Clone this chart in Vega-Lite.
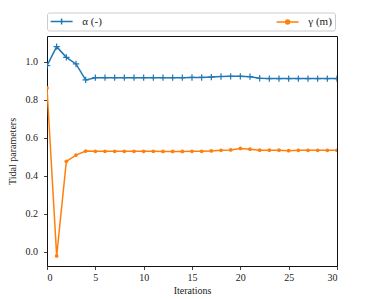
{
  "$schema": "https://vega.github.io/schema/vega-lite/v6.json",
  "width": 290,
  "height": 230,
  "autosize": {"type": "none"},
  "padding": {"left": 47, "top": 36, "right": 37, "bottom": 33},
  "background": "white",
  "config": {
    "view": {"stroke": "#111", "strokeWidth": 1},
    "font": "Liberation Serif",
    "axis": {
      "grid": false,
      "domain": false,
      "tickColor": "#111",
      "tickSize": 3.5,
      "tickWidth": 0.8,
      "labelFont": "Liberation Serif",
      "labelFontSize": 10,
      "labelColor": "#222",
      "labelPadding": 3,
      "titleFont": "Liberation Serif",
      "titleFontSize": 10,
      "titleFontWeight": "normal",
      "titleColor": "#222"
    },
    "legend": {
      "labelFont": "Liberation Serif",
      "labelFontSize": 11,
      "labelColor": "#222"
    }
  },
  "data": {
    "values": [
      {"iter": 0, "series": "α (-)", "value": 0.979},
      {"iter": 1, "series": "α (-)", "value": 1.079},
      {"iter": 2, "series": "α (-)", "value": 1.023},
      {"iter": 3, "series": "α (-)", "value": 0.988},
      {"iter": 4, "series": "α (-)", "value": 0.904},
      {"iter": 5, "series": "α (-)", "value": 0.916},
      {"iter": 6, "series": "α (-)", "value": 0.916},
      {"iter": 7, "series": "α (-)", "value": 0.916},
      {"iter": 8, "series": "α (-)", "value": 0.916},
      {"iter": 9, "series": "α (-)", "value": 0.916},
      {"iter": 10, "series": "α (-)", "value": 0.916},
      {"iter": 11, "series": "α (-)", "value": 0.916},
      {"iter": 12, "series": "α (-)", "value": 0.916},
      {"iter": 13, "series": "α (-)", "value": 0.916},
      {"iter": 14, "series": "α (-)", "value": 0.916},
      {"iter": 15, "series": "α (-)", "value": 0.917},
      {"iter": 16, "series": "α (-)", "value": 0.917},
      {"iter": 17, "series": "α (-)", "value": 0.919},
      {"iter": 18, "series": "α (-)", "value": 0.922},
      {"iter": 19, "series": "α (-)", "value": 0.923},
      {"iter": 20, "series": "α (-)", "value": 0.923},
      {"iter": 21, "series": "α (-)", "value": 0.921},
      {"iter": 22, "series": "α (-)", "value": 0.913},
      {"iter": 23, "series": "α (-)", "value": 0.911},
      {"iter": 24, "series": "α (-)", "value": 0.911},
      {"iter": 25, "series": "α (-)", "value": 0.911},
      {"iter": 26, "series": "α (-)", "value": 0.911},
      {"iter": 27, "series": "α (-)", "value": 0.911},
      {"iter": 28, "series": "α (-)", "value": 0.911},
      {"iter": 29, "series": "α (-)", "value": 0.911},
      {"iter": 30, "series": "α (-)", "value": 0.911},
      {"iter": 0, "series": "γ (m)", "value": 0.862},
      {"iter": 1, "series": "γ (m)", "value": -0.021},
      {"iter": 2, "series": "γ (m)", "value": 0.476},
      {"iter": 3, "series": "γ (m)", "value": 0.509},
      {"iter": 4, "series": "γ (m)", "value": 0.530},
      {"iter": 5, "series": "γ (m)", "value": 0.529},
      {"iter": 6, "series": "γ (m)", "value": 0.529},
      {"iter": 7, "series": "γ (m)", "value": 0.529},
      {"iter": 8, "series": "γ (m)", "value": 0.529},
      {"iter": 9, "series": "γ (m)", "value": 0.529},
      {"iter": 10, "series": "γ (m)", "value": 0.529},
      {"iter": 11, "series": "γ (m)", "value": 0.529},
      {"iter": 12, "series": "γ (m)", "value": 0.528},
      {"iter": 13, "series": "γ (m)", "value": 0.528},
      {"iter": 14, "series": "γ (m)", "value": 0.528},
      {"iter": 15, "series": "γ (m)", "value": 0.529},
      {"iter": 16, "series": "γ (m)", "value": 0.529},
      {"iter": 17, "series": "γ (m)", "value": 0.531},
      {"iter": 18, "series": "γ (m)", "value": 0.534},
      {"iter": 19, "series": "γ (m)", "value": 0.536},
      {"iter": 20, "series": "γ (m)", "value": 0.544},
      {"iter": 21, "series": "γ (m)", "value": 0.540},
      {"iter": 22, "series": "γ (m)", "value": 0.535},
      {"iter": 23, "series": "γ (m)", "value": 0.535},
      {"iter": 24, "series": "γ (m)", "value": 0.535},
      {"iter": 25, "series": "γ (m)", "value": 0.532},
      {"iter": 26, "series": "γ (m)", "value": 0.534},
      {"iter": 27, "series": "γ (m)", "value": 0.534},
      {"iter": 28, "series": "γ (m)", "value": 0.534},
      {"iter": 29, "series": "γ (m)", "value": 0.534},
      {"iter": 30, "series": "γ (m)", "value": 0.534}
    ]
  },
  "encoding": {
    "x": {
      "field": "iter", "type": "quantitative",
      "scale": {"domain": [0, 30], "nice": false, "zero": false},
      "axis": {"values": [0, 5, 10, 15, 20, 25, 30], "title": "Iterations", "titlePadding": 3}
    },
    "y": {
      "field": "value", "type": "quantitative",
      "scale": {"domain": [-0.074, 1.135], "nice": false, "zero": false},
      "axis": {"values": [0, 0.2, 0.4, 0.6, 0.8, 1.0], "format": ".1f", "title": "Tidal parameters", "titlePadding": 8, "labelPadding": 6}
    },
    "color": {
      "field": "series", "type": "nominal",
      "scale": {"domain": ["α (-)", "γ (m)"], "range": ["#1f77b4", "#ff7f0e"]}
    }
  },
  "layer": [
    {
      "mark": {"type": "line", "strokeWidth": 1.5, "clip": true},
      "encoding": {
        "color": {
          "field": "series", "type": "nominal",
          "scale": {"domain": ["α (-)", "γ (m)"], "range": ["#1f77b4", "#ff7f0e"]},
          "legend": {
            "orient": "none",
            "legendX": 0,
            "legendY": -23.5,
            "direction": "horizontal",
            "columns": 2,
            "columnPadding": 171,
            "title": null,
            "symbolSize": 100,
            "symbolOffset": 5.6,
            "symbolStrokeWidth": 1.5,
            "labelOffset": 14.7,
            "padding": 3,
            "fillColor": "white",
            "strokeColor": "#cccccc",
            "cornerRadius": 2,
            "encode": {
              "symbols": {
                "update": {
                  "shape": {"signal": "datum.value === 'α (-)' ? 'M-2.2,0H2.2M0,-0.6V0.6' : 'M-2.2,0H2.2M0.4,0A0.4,0.4 0 1 1 -0.4,0A0.4,0.4 0 1 1 0.4,0Z'"},
                  "fill": {"signal": "datum.value === 'α (-)' ? 'transparent' : '#ff7f0e'"},
                  "stroke": {"signal": "datum.value === 'α (-)' ? '#1f77b4' : '#ff7f0e'"}
                }
              }
            }
          }
        }
      }
    },
    {
      "transform": [{"filter": "datum.series === 'α (-)'"}],
      "mark": {"type": "point", "shape": "M-1,0H1M0,-1V1", "filled": false, "size": 40, "strokeWidth": 1.2, "opacity": 1, "clip": true}
    },
    {
      "transform": [{"filter": "datum.series === 'γ (m)'"}],
      "mark": {"type": "circle", "size": 14, "opacity": 1, "clip": true}
    }
  ]
}
